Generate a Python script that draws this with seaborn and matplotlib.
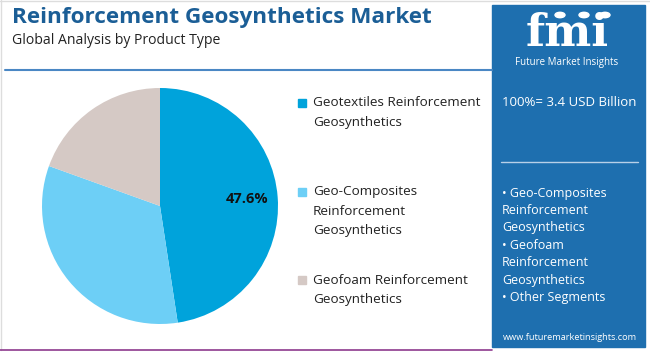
import matplotlib
matplotlib.use("Agg")
import matplotlib.pyplot as plt
import seaborn as sns
from matplotlib.patches import Rectangle, Circle
from matplotlib.lines import Line2D

sns.set_theme(style="white")
plt.rcParams['font.family'] = ['Open Sans', 'DejaVu Sans']

categories = ["Geotextiles Reinforcement\nGeosynthetics",
              "Geo-Composites\nReinforcement\nGeosynthetics",
              "Geofoam Reinforcement\nGeosynthetics"]
shares = [47.6, 32.9, 19.5]
colors = ["#00A3DB", "#6DCFF6", "#D5C9C5"]
shown_labels = ["47.6%", "", ""]

title = "Reinforcement Geosynthetics Market"
subtitle = "Global Analysis by Product Type"
total_text = "100%= 3.4 USD Billion"
panel_lines = ["• Geo-Composites", "Reinforcement", "Geosynthetics",
               "• Geofoam", "Reinforcement", "Geosynthetics",
               "• Other Segments"]
website = "www.futuremarketinsights.com"

W, H = 650, 352
fig = plt.figure(figsize=(6.5, 3.52), dpi=100)
fig.patch.set_facecolor("white")

def fx(x):
    return x / W

def fy(y):
    return 1 - y / H

# frame lines
fig.add_artist(Line2D([fx(1), fx(1)], [fy(0), fy(350)], color="#DDDDDD", lw=1))
fig.add_artist(Line2D([fx(0), fx(650)], [fy(0.5), fy(0.5)], color="#DDDDDD", lw=1))
fig.add_artist(Line2D([fx(0), fx(492)], [fy(350), fy(350)], color="#8E3A8E", lw=1.2))

# title
fig.text(fx(12), fy(18), title, fontsize=16.2, fontweight="bold", color="#1B5E96",
         va="center", ha="left")
fig.text(fx(12), fy(41), subtitle, fontsize=10.1, color="#222222", va="center", ha="left")
fig.add_artist(Line2D([fx(5), fx(492)], [fy(70), fy(70)], color="#4A87C4", lw=1.5))

# pie
cx, cy, r = 160, 206, 118
ax = fig.add_axes([fx(cx - r), fy(cy + r), 2 * r / W, 2 * r / H])
wedges, texts, autotexts = ax.pie(
    shares, colors=colors, startangle=90, counterclock=False,
    autopct=lambda p: "", pctdistance=0.74,
    wedgeprops=dict(linewidth=0))
for t, lab in zip(autotexts, shown_labels):
    t.set_text(lab)
    t.set_fontsize(10.5)
    t.set_fontweight("bold")
    t.set_color("#111111")
ax.set_xlim(-1, 1)
ax.set_ylim(-1, 1)
ax.set_aspect("equal")
ax.axis("off")

# legend
leg_y = [103, 192, 280]
for cat, col, y0 in zip(categories, colors, leg_y):
    fig.add_artist(Rectangle((fx(298), fy(y0 + 4)), 8 / W, 8 / H, color=col,
                             transform=fig.transFigure))
    for i, line in enumerate(cat.split("\n")):
        fig.text(fx(313), fy(y0 + i * 19.3), line, fontsize=9.7, color="#222222",
                 va="center", ha="left")

# right panel
px0, px1, py0, py1 = 492, 645, 5, 347
fig.add_artist(Rectangle((fx(px0), fy(py1)), (px1 - px0) / W, (py1 - py0) / H,
                         color="#1E6FAF", transform=fig.transFigure, zorder=0))
# logo
fig.text(fx(567), fy(33), "fmi", fontsize=32, fontweight="bold", color="white",
         family="DejaVu Serif", va="center", ha="center")
for lx in [560, 584, 605]:
    fig.add_artist(Circle((fx(lx), fy(15)), 5 / W, color="white",
                          transform=fig.transFigure))
fig.text(fx(567), fy(62), "Future Market Insights", fontsize=7, color="white",
         va="center", ha="center")

fig.text(fx(502), fy(103), total_text, fontsize=9.5, color="white", va="center", ha="left")
fig.add_artist(Line2D([fx(501), fx(638)], [fy(162), fy(162)], color="#B8D0E8", lw=1))
for i, line in enumerate(panel_lines):
    fig.text(fx(502), fy(193 + i * 17.5), line, fontsize=9, color="white",
             va="center", ha="left")
fig.text(fx(570), fy(337), website, fontsize=6.6, color="white", va="center", ha="center")

fig.savefig("out.png", dpi=100)
